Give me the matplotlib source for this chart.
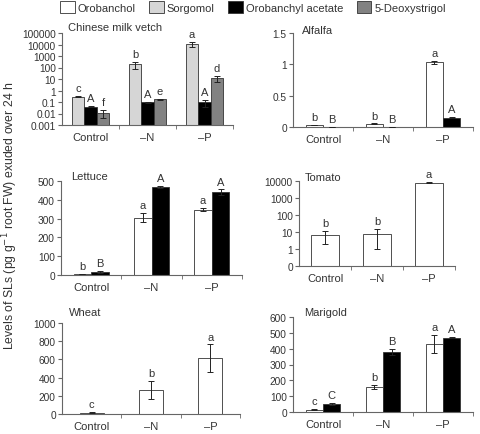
import matplotlib.pyplot as plt
from matplotlib.patches import Patch
from matplotlib.transforms import offset_copy
import numpy as np

plt.rcParams['font.family'] = ['Liberation Sans', 'DejaVu Sans']

groups = ['Control', '\u2013N', '\u2013P']

# Chinese milk vetch (log scale)
cmv_sorg = [0.3, 200, 12000]
cmv_sorg_err = [0.02, 120, 6000]
cmv_oa = [0.04, 0.1, 0.1]
cmv_oa_err = [0.004, 0.01, 0.06]
cmv_5ds = [0.012, 0.18, 12]
cmv_5ds_err = [0.008, 0.02, 6]
cmv_letters = [['c', 'b', 'a'], ['A', 'A', 'A'], ['f', 'e', 'd']]

# Alfalfa
alf_oro = [0.03, 0.05, 1.03]
alf_oro_err = [0.005, 0.008, 0.03]
alf_oa = [0.004, 0.004, 0.15]
alf_oa_err = [0.0, 0.0, 0.01]
alf_letters = [['b', 'b', 'a'], ['B', 'B', 'A']]

# Lettuce
let_oro = [5, 305, 348]
let_oro_err = [2, 25, 10]
let_oa = [15, 470, 440]
let_oa_err = [5, 5, 15]
let_letters = [['b', 'a', 'a'], ['B', 'A', 'A']]

# Tomato (log scale, bottom 0.1 shown as 0)
tom_oro = [7, 8, 8000]
tom_oro_err = [5, 7, 500]
tom_letters = ['b', 'b', 'a']

# Wheat
wht_oro = [15, 265, 615]
wht_oro_err = [4, 100, 150]
wht_letters = ['c', 'b', 'a']

# Marigold
mar_oro = [15, 158, 430]
mar_oro_err = [4, 12, 55]
mar_oa = [52, 380, 470]
mar_oa_err = [8, 20, 5]
mar_letters = [['c', 'b', 'a'], ['C', 'B', 'A']]

c_oro = 'white'
c_sorg = '#d6d6d6'
c_oa = 'black'
c_5ds = '#828282'
txt = '#333333'
spine = '#666666'

W, H = 480, 435
fig = plt.figure(figsize=(4.8, 4.35), dpi=100)


def make_ax(l, t, r, b):
    return fig.add_axes([l / W, 1 - b / H, (r - l) / W, (b - t) / H])


def style(ax, title, dx, dy):
    for s in ['top', 'right']:
        ax.spines[s].set_visible(False)
    for s in ['left', 'bottom']:
        ax.spines[s].set_color(spine)
        ax.spines[s].set_linewidth(0.8)
    ax.set_xlim(-0.5, 2.5)
    ax.set_xticks([0, 1, 2])
    ax.set_xticklabels(groups, fontsize=8, color=txt)
    ax.tick_params(axis='x', which='major', length=0, pad=5)
    ax.set_xticks([0.5, 1.5, 2.5], minor=True)
    ax.tick_params(axis='x', which='minor', length=3, color=spine, direction='out')
    ax.tick_params(axis='y', length=3, color=spine, labelsize=7.3, labelcolor=txt, pad=1.5)
    # title placed near the top-left corner, offset in pixels
    tr = offset_copy(ax.transAxes, fig=fig, x=dx, y=dy, units='dots')
    ax.text(0, 1, title, transform=tr, fontsize=8, color=txt, va='center', ha='left')


def bars(ax, vals, errs, letters, color, offset, width):
    x = np.arange(3) + offset
    ax.bar(x, vals, width, color=color, edgecolor='#333333', linewidth=0.6, zorder=2)
    ax.errorbar(x, vals, yerr=errs, fmt='none', ecolor='#222222', elinewidth=0.7,
                capsize=2, capthick=0.7, zorder=3)
    for xi, v, e, lab in zip(x, vals, errs, letters):
        ax.annotate(lab, (xi, v + e), xytext=(0, 2), textcoords='offset points',
                    ha='center', va='bottom', fontsize=8, color=txt)


# Chinese milk vetch
ax = make_ax(62, 34, 233, 126)
ax.set_yscale('log')
ax.set_ylim(0.001, 100000)
ax.set_yticks([0.001, 0.01, 0.1, 1, 10, 100, 1000, 10000, 100000])
ax.set_yticklabels(['0.001', '0.01', '0.1', '1', '10', '100', '1000', '10000', '100000'])
ax.minorticks_off()
style(ax, 'Chinese milk vetch', 6, 6)
ax.set_xticks([0.5, 1.5, 2.5], minor=True)
ax.tick_params(axis='x', which='minor', length=3, color=spine)
w = 0.22
bars(ax, cmv_sorg, cmv_sorg_err, cmv_letters[0], c_sorg, -w, w)
bars(ax, cmv_oa, cmv_oa_err, cmv_letters[1], c_oa, 0, w)
bars(ax, cmv_5ds, cmv_5ds_err, cmv_letters[2], c_5ds, w, w)

# Alfalfa
ax = make_ax(293, 34, 473, 128)
ax.set_ylim(0, 1.5)
ax.set_yticks([0, 0.5, 1, 1.5])
ax.set_yticklabels(['0', '0.5', '1', '1.5'])
style(ax, 'Alfalfa', 9, 3)
w = 0.29
bars(ax, alf_oro, alf_oro_err, alf_letters[0], c_oro, -w / 2, w)
bars(ax, alf_oa, alf_oa_err, alf_letters[1], c_oa, w / 2, w)

# Lettuce
ax = make_ax(61, 182, 242, 276)
ax.set_ylim(0, 500)
ax.set_yticks(range(0, 501, 100))
style(ax, 'Lettuce', 10, 5)
bars(ax, let_oro, let_oro_err, let_letters[0], c_oro, -w / 2, w)
bars(ax, let_oa, let_oa_err, let_letters[1], c_oa, w / 2, w)

# Tomato
ax = make_ax(299, 182, 455, 267)
ax.set_yscale('log')
ax.set_ylim(0.1, 10000)
ax.set_yticks([0.1, 1, 10, 100, 1000, 10000])
ax.set_yticklabels(['0', '1', '10', '100', '1000', '10000'])
ax.minorticks_off()
style(ax, 'Tomato', 6, 4)
ax.set_xticks([0.5, 1.5, 2.5], minor=True)
ax.tick_params(axis='x', which='minor', length=3, color=spine)
bars(ax, tom_oro, tom_oro_err, tom_letters, c_oro, 0, 0.53)

# Wheat
ax = make_ax(62, 324, 240, 415)
ax.set_ylim(0, 1000)
ax.set_yticks(range(0, 1001, 200))
style(ax, 'Wheat', 7, 11)
bars(ax, wht_oro, wht_oro_err, wht_letters, c_oro, 0, 0.4)

# Marigold
ax = make_ax(293, 318, 473, 413)
ax.set_ylim(0, 600)
ax.set_yticks(range(0, 601, 100))
style(ax, 'Marigold', 11, 5)
bars(ax, mar_oro, mar_oro_err, mar_letters[0], c_oro, -w / 2, w)
bars(ax, mar_oa, mar_oa_err, mar_letters[1], c_oa, w / 2, w)

# legend
handles = [Patch(facecolor=c, edgecolor='#333333', linewidth=0.6)
           for c in [c_oro, c_sorg, c_oa, c_5ds]]
fig.legend(handles, ['Orobanchol', 'Sorgomol', 'Orobanchyl acetate', '5-Deoxystrigol'],
           loc='center', bbox_to_anchor=(253 / W, 1 - 8 / H), ncol=4, frameon=False,
           fontsize=8, handlelength=1.3, handleheight=1.2, handletextpad=0.3,
           columnspacing=1.2, labelcolor=txt)

fig.text(10 / W, 1 - 216 / H, 'Levels of SLs (pg g$^{-1}$ root FW) exuded over 24 h',
         rotation=90, ha='center', va='center', fontsize=8.8, color=txt)

fig.savefig('out.png', dpi=100)
